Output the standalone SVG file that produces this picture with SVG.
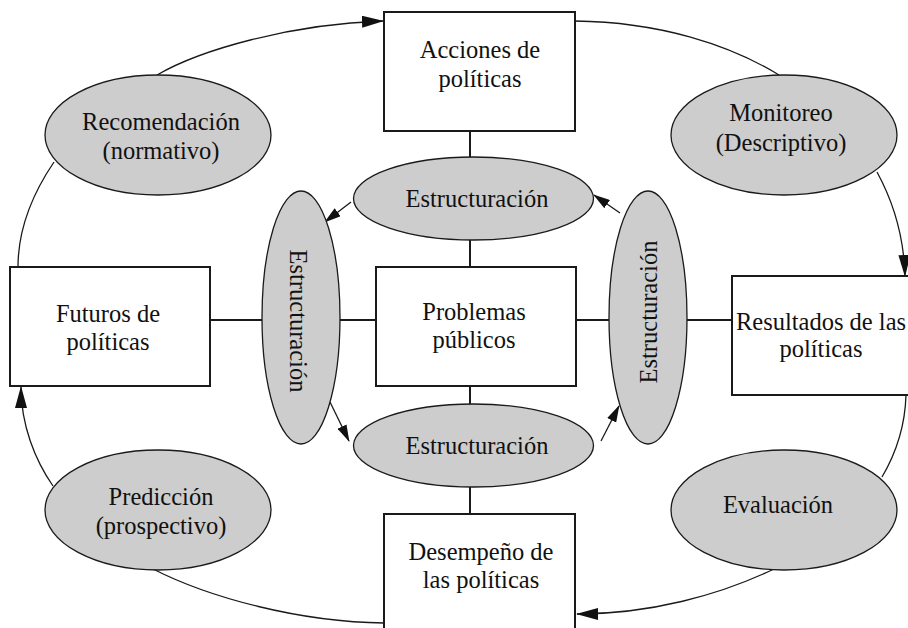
<svg xmlns="http://www.w3.org/2000/svg" width="908" height="628" viewBox="0 0 908 628">
<defs>
<style>
.box{fill:#ffffff;stroke:#1a1a1a;stroke-width:2}
.ell{fill:#cdcdcd;stroke:#1a1a1a;stroke-width:1.3}
.t{font-family:"Liberation Serif","Times New Roman",serif;font-size:24.5px;fill:#111;text-anchor:middle}
.c{fill:none;stroke:#1a1a1a;stroke-width:1.3}
.s{fill:none;stroke:#1a1a1a;stroke-width:2}
</style>
<marker id="ah" markerUnits="userSpaceOnUse" markerWidth="22" markerHeight="12" refX="21" refY="6" orient="auto">
<path d="M0,0 L22,6 L0,12 z" fill="#111"/>
</marker>
<marker id="ahs" markerUnits="userSpaceOnUse" markerWidth="17" markerHeight="10" refX="16" refY="5" orient="auto">
<path d="M0,0 L17,5 L0,10 z" fill="#111"/>
</marker>
</defs>
<rect width="908" height="628" fill="#ffffff"/>

<g id="connectors">
<path class="c" d="M157,75 C200,50 290,24 383,21" marker-end="url(#ah)"/>
<path class="c" d="M18,267 C18,225 35,190 54,162"/>
<path class="c" d="M575,21 C660,22 730,45 779,75"/>
<path class="c" d="M877,172 C895,205 904,240 905,276" marker-end="url(#ah)"/>
<path class="c" d="M906,395 C905,430 895,455 882,477"/>
<path class="c" d="M774,569 C720,595 650,614 577,614" marker-end="url(#ah)"/>
<path class="c" d="M153,569 C210,598 300,622 384,623"/>
<path class="c" d="M53,486 C35,460 21,425 21,387" marker-end="url(#ah)"/>
<line class="s" x1="470" y1="131" x2="470" y2="157"/>
<line class="s" x1="470" y1="240" x2="470" y2="267"/>
<line class="s" x1="470" y1="386" x2="470" y2="404"/>
<line class="s" x1="470" y1="487" x2="470" y2="514"/>
<line class="s" x1="210" y1="320" x2="262" y2="320"/>
<line class="s" x1="340" y1="320" x2="376" y2="320"/>
<line class="s" x1="576" y1="320" x2="609" y2="320"/>
<line class="s" x1="687" y1="320" x2="732" y2="320"/>
<line class="c" x1="351" y1="202" x2="325" y2="222" marker-end="url(#ahs)"/>
<line class="c" x1="620" y1="213" x2="594" y2="195" marker-end="url(#ahs)"/>
<line class="c" x1="330" y1="402" x2="349" y2="441" marker-end="url(#ahs)"/>
<line class="c" x1="601" y1="441" x2="619" y2="406" marker-end="url(#ahs)"/>
</g>

<g id="acciones">
<rect class="box" x="384" y="12" width="191" height="119"/>
<text class="t" x="480" y="58">Acciones de</text>
<text class="t" x="480" y="87">políticas</text>
</g>
<g id="futuros">
<rect class="box" x="10" y="267" width="200" height="119"/>
<text class="t" x="108" y="322">Futuros de</text>
<text class="t" x="108" y="350">políticas</text>
</g>
<g id="problemas">
<rect class="box" x="376" y="267" width="200" height="119"/>
<text class="t" x="474" y="320">Problemas</text>
<text class="t" x="474" y="348">públicos</text>
</g>
<g id="resultados">
<rect class="box" x="732" y="276" width="180" height="119"/>
<text class="t" x="821" y="330">Resultados de las</text>
<text class="t" x="821" y="357">políticas</text>
</g>
<g id="desempeno">
<rect class="box" x="384" y="514" width="191" height="130"/>
<text class="t" x="481" y="560">Desempeño de</text>
<text class="t" x="481" y="588">las políticas</text>
</g>

<g id="recomendacion">
<ellipse class="ell" cx="158" cy="135" rx="113" ry="60"/>
<text class="t" x="161" y="130">Recomendación</text>
<text class="t" x="161" y="159">(normativo)</text>
</g>
<g id="monitoreo">
<ellipse class="ell" cx="784" cy="135" rx="113" ry="60"/>
<text class="t" x="781" y="121">Monitoreo</text>
<text class="t" x="781" y="151">(Descriptivo)</text>
</g>
<g id="prediccion">
<ellipse class="ell" cx="158" cy="510" rx="113" ry="60"/>
<text class="t" x="161" y="505">Predicción</text>
<text class="t" x="161" y="534">(prospectivo)</text>
</g>
<g id="evaluacion">
<ellipse class="ell" cx="784" cy="510" rx="113" ry="60"/>
<text class="t" x="778" y="513">Evaluación</text>
</g>
<g id="estr-top">
<ellipse class="ell" cx="473.5" cy="198.5" rx="120" ry="41.5"/>
<text class="t" x="477" y="207">Estructuración</text>
</g>
<g id="estr-bottom">
<ellipse class="ell" cx="473.5" cy="445.5" rx="120" ry="41.5"/>
<text class="t" x="477" y="454">Estructuración</text>
</g>
<g id="estr-left">
<ellipse class="ell" cx="301" cy="317.5" rx="39" ry="126.5"/>
<text class="t" transform="translate(290,321) rotate(90)">Estructuración</text>
</g>
<g id="estr-right">
<ellipse class="ell" cx="648" cy="317.5" rx="39" ry="126.5"/>
<text class="t" transform="translate(657,312) rotate(-90)">Estructuración</text>
</g>
</svg>
